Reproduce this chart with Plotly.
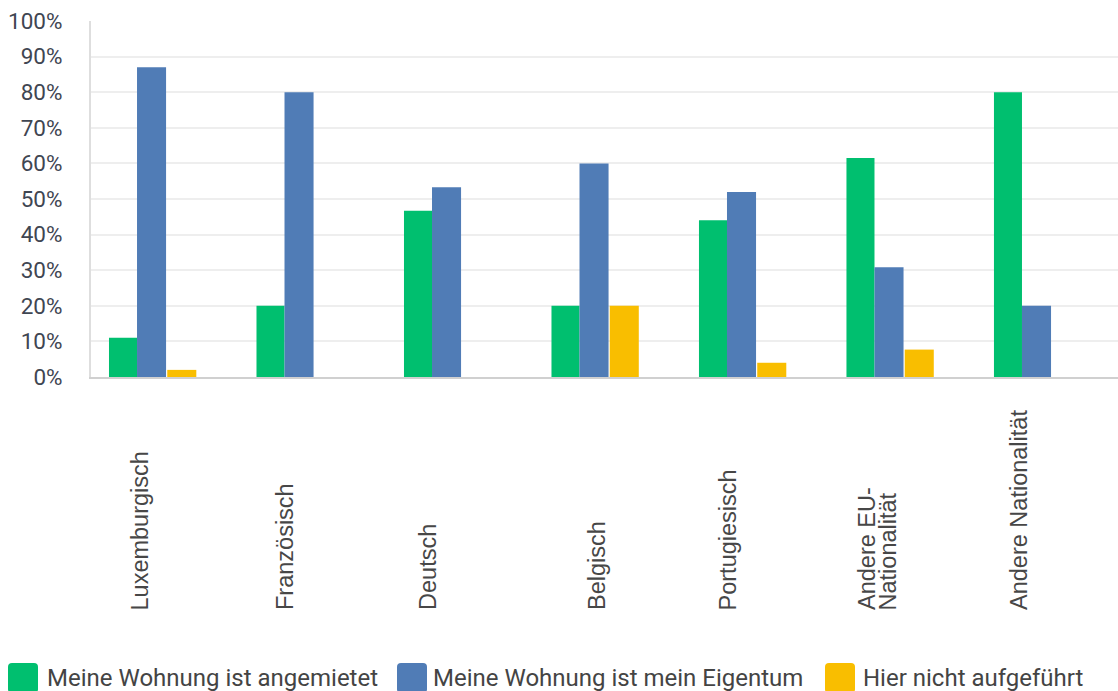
import plotly.graph_objects as go

# Nationalität der Befragten
categories = [
    "Luxemburgisch",
    "Französisch",
    "Deutsch",
    "Belgisch",
    "Portugiesisch",
    "Andere EU-\nNationalität",
    "Andere Nationalität",
]

# Anteile in Prozent je Wohnsituation
angemietet = [11, 20, 46.7, 20, 44, 61.5, 80]
eigentum = [87, 80, 53.3, 60, 52, 30.8, 20]
nicht_aufgefuehrt = [2, 0, 0, 20, 4, 7.7, 0]

series_names = [
    "Meine Wohnung ist angemietet",
    "Meine Wohnung ist mein Eigentum",
    "Hier nicht aufgeführt",
]
series_values = [angemietet, eigentum, nicht_aufgefuehrt]
series_colors = ["#00BF6F", "#507CB6", "#F9BE00"]

y_ticks = list(range(0, 101, 10))
y_tick_labels = [f"{v}%" for v in y_ticks]

# Figure geometry (pixels)
W, H = 1118, 691
PL, PR, PT, PB = 91, 0, 21, 314
plot_w = W - PL - PR
plot_h = H - PT - PB


def px_to_paper_x(px):
    return (px - PL) / plot_w


def px_to_paper_y(py):
    return (H - PB - py) / plot_h


x_idx = list(range(len(categories)))
bar_offsets = [-0.4, -0.21, -0.005]
bar_widths = [0.19, 0.197, 0.197]

fig = go.Figure()
for name, vals, color, off, wd in zip(series_names, series_values, series_colors,
                                      bar_offsets, bar_widths):
    fig.add_trace(go.Bar(
        x=x_idx,
        y=vals,
        name=name,
        marker=dict(color=color, line=dict(width=0)),
        offset=off,
        width=wd,
        showlegend=False,
    ))

# Category labels, rotated and aligned at their start
label_font = dict(family="Liberation Sans, Arial, sans-serif", size=23.5, color="#474747")
label_bottom = px_to_paper_y(612)
label_shifts = [-28, -31, -35, -14, -30, -28, -34]
line_step = 22
annotations = []
for i, cat in enumerate(categories):
    lines = cat.split("\n")
    n = len(lines)
    for j, line in enumerate(lines):
        annotations.append(dict(
            x=i, xref="x", y=label_bottom, yref="paper",
            text=line, textangle=-90, showarrow=False,
            xanchor="center", yanchor="bottom",
            xshift=label_shifts[i] + (j - (n - 1) / 2) * line_step,
            font=label_font,
        ))

# Legend drawn as rounded swatches with text
legend_font = dict(family="Roboto, sans-serif", size=24, color="#444444")
swatch_x = [8, 397, 825]
text_x = [47, 433, 863]
sw_top, sw_size, r = 663, 30, 4
shapes = []
for sx, tx, name, color in zip(swatch_x, text_x, series_names, series_colors):
    x0, x1 = sx, sx + sw_size
    y0, y1 = sw_top, sw_top + sw_size
    X = px_to_paper_x
    Y = px_to_paper_y
    path = (
        f"M {X(x0 + r)},{Y(y0)} L {X(x1 - r)},{Y(y0)} "
        f"Q {X(x1)},{Y(y0)} {X(x1)},{Y(y0 + r)} "
        f"L {X(x1)},{Y(y1 - r)} Q {X(x1)},{Y(y1)} {X(x1 - r)},{Y(y1)} "
        f"L {X(x0 + r)},{Y(y1)} Q {X(x0)},{Y(y1)} {X(x0)},{Y(y1 - r)} "
        f"L {X(x0)},{Y(y0 + r)} Q {X(x0)},{Y(y0)} {X(x0 + r)},{Y(y0)} Z"
    )
    shapes.append(dict(type="path", xref="paper", yref="paper", path=path,
                       fillcolor=color, line=dict(width=0), layer="above"))
    annotations.append(dict(
        x=px_to_paper_x(tx - 2), xref="paper", y=px_to_paper_y(678), yref="paper",
        text=name, showarrow=False, xanchor="left", yanchor="middle",
        font=legend_font,
    ))

fig.update_layout(
    width=W, height=H,
    margin=dict(l=PL, r=PR, t=PT, b=PB, pad=0),
    paper_bgcolor="white",
    plot_bgcolor="white",
    barmode="overlay",
    showlegend=False,
    annotations=annotations,
    shapes=shapes,
    xaxis=dict(
        range=[-0.522, 6.441],
        showticklabels=False,
        ticks="",
        showgrid=False,
        zeroline=False,
        showline=True,
        linecolor="#d0d0d0",
        linewidth=2,
        fixedrange=True,
    ),
    yaxis=dict(
        range=[0, 100],
        tickvals=y_ticks,
        ticktext=y_tick_labels,
        tickfont=dict(family="Roboto, sans-serif", size=22.5, color="#3f4652"),
        ticks="",
        ticklabelstandoff=22,
        showgrid=True,
        gridcolor="#eeeeee",
        gridwidth=2,
        zeroline=False,
        showline=True,
        linecolor="#dedede",
        linewidth=2,
        fixedrange=True,
    ),
)

fig.write_html("out.html")
